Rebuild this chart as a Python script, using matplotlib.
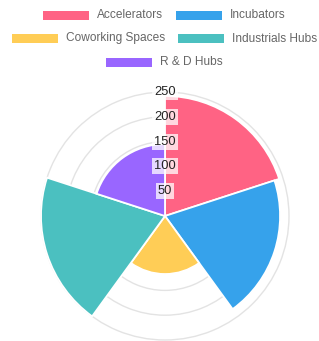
import numpy as np
import matplotlib
matplotlib.use("Agg")
import matplotlib.pyplot as plt
from matplotlib.patches import Rectangle

# ---- data ----
categories = ["Accelerators", "Incubators", "Coworking Spaces", "Industrials Hubs", "R & D Hubs"]
values = [242, 232, 117, 250, 145]
colors = ["#FF6384", "#36A2EB", "#FFCD56", "#4BC0C0", "#9966FF"]
tick_values = [50, 100, 150, 200, 250]

W, H = 319, 341
DPI = 100
plt.rcParams['font.family'] = ['Liberation Sans', 'DejaVu Sans']

fig = plt.figure(figsize=(W / DPI, H / DPI), dpi=DPI)
fig.patch.set_facecolor("white")

# polar axes placement (pixels)
cx, cy = 165, 216
rmax_val = 254
px_per_unit = 0.496
R = rmax_val * px_per_unit
ax = fig.add_axes([(cx - R) / W, (H - cy - R) / H, 2 * R / W, 2 * R / H], projection="polar")
ax.set_theta_zero_location("N")
ax.set_theta_direction(-1)
ax.set_ylim(0, rmax_val)

n = len(values)
width = 2 * np.pi / n
theta = np.arange(n) * width
ax.bar(theta, values, width=width, align="edge", color=colors,
       edgecolor="white", linewidth=1.3, zorder=2)

ax.set_xticks([])
ax.set_rticks(tick_values)
ax.set_yticklabels([])
ax.yaxis.grid(True, color="#e3e3e3", linewidth=1.0)
ax.set_axisbelow(True)
ax.spines["polar"].set_visible(False)
ax.patch.set_alpha(0)

for v in tick_values:
    ax.text(0, v, str(v), ha="center", va="center", fontsize=9.3, color="#222222", zorder=5,
            bbox=dict(boxstyle="square,pad=0.15", facecolor="white", alpha=0.75, edgecolor="none"))

# ---- legend (Chart.js-like layout) ----
fs_leg = 8.6
box_w, box_h = 46, 9
gap = 8
item_pad = 13
max_w = W - 6
center_x = 164.5
row_y0, row_dy = 15, 23.5

renderer = fig.canvas.get_renderer()
widths = []
for c in categories:
    t = fig.text(0, 0, c, fontsize=fs_leg)
    widths.append(t.get_window_extent(renderer).width)
    t.remove()

rows, cur, cur_w = [], [], 0
for i, tw in enumerate(widths):
    iw = box_w + gap + tw
    add = iw if not cur else item_pad + iw
    if cur and cur_w + add > max_w:
        rows.append(cur)
        cur, cur_w = [i], iw
    else:
        cur.append(i)
        cur_w += add
rows.append(cur)

for r, items in enumerate(rows):
    total = sum(box_w + gap + widths[i] for i in items) + item_pad * (len(items) - 1)
    x = center_x - total / 2
    y = row_y0 + r * row_dy
    for i in items:
        fig.patches.append(Rectangle((x / W, 1 - (y + box_h / 2) / H), box_w / W, box_h / H,
                                     transform=fig.transFigure, facecolor=colors[i],
                                     edgecolor="none", figure=fig))
        fig.text((x + box_w + gap) / W, 1 - y / H, categories[i], fontsize=fs_leg,
                 color="#666666", ha="left", va="center")
        x += box_w + gap + widths[i] + item_pad

fig.savefig("out.png", dpi=DPI, facecolor="white")
